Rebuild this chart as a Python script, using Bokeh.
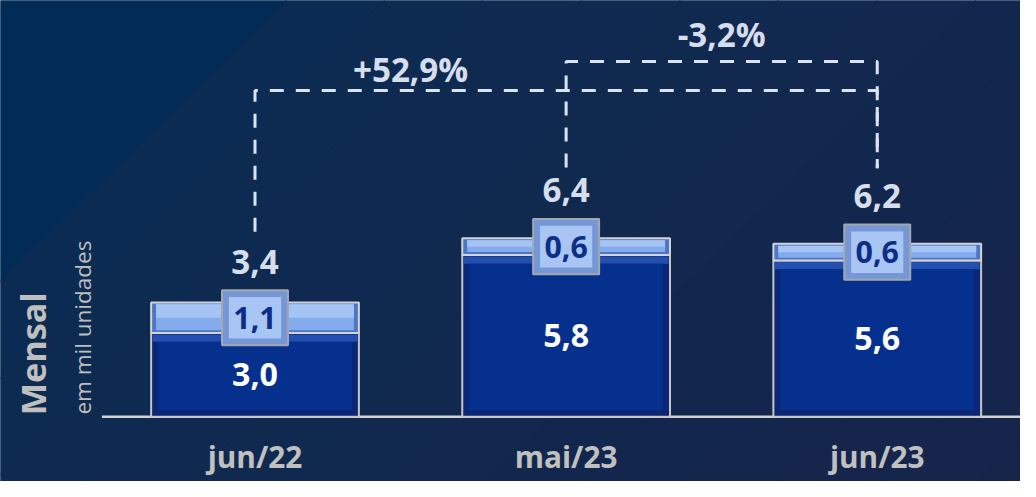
import math
from bokeh.plotting import figure
from bokeh.models import Range1d
from bokeh.core.properties import value
from bokeh.embed import file_html
from bokeh.resources import INLINE

# ---------------- data ----------------
categories = ["jun/22", "mai/23", "jun/23"]
base_vals = [3.0, 5.8, 5.6]          # dark segment
top_vals = [1.1, 0.6, 0.6]           # light segment (box labels)
total_labels = ["3,4", "6,4", "6,2"]
base_labels = ["3,0", "5,8", "5,6"]
top_labels = ["1,1", "0,6", "0,6"]
var_from = [0, 1]
var_to = [2, 2]
var_labels = ["+52,9%", "-3,2%"]

# ---------------- geometry helpers (reference layout scaled into 1020x481) ----------------
FW, FH = 1020, 481
SX = FW / 1036.0
SY = FH / 497.0
SF = (SX + SY) / 2
REF_STEP = 316.0     # reference px per category step
REF_UNIT = 28.8      # reference px per value unit
X0 = -258.5 / REF_STEP
X1 = X0 + 1036.0 / REF_STEP
Y0 = (430 - 497) / REF_UNIT
Y1 = 430 / REF_UNIT


def px2x(px):
    return X0 + px / REF_STEP


def py2y(py):
    return (430 - py) / REF_UNIT


def dx(px):
    return px / REF_STEP


def dy(px):
    return px / REF_UNIT


def fs(n):
    return "%.1fpx" % (n * SF)


xs = list(range(len(categories)))
tops = [b + t for b, t in zip(base_vals, top_vals)]
mids = [b + t / 2 for b, t in zip(base_vals, top_vals)]

p = figure(width=FW, height=FH, x_range=Range1d(X0, X1), y_range=Range1d(Y0, Y1),
           output_backend="svg", toolbar_location=None,
           x_axis_location=None, y_axis_location=None,
           min_border=0, outline_line_color=None,
           background_fill_color="#0d2a50", border_fill_color="#0d2a50")
p.xgrid.visible = False
p.ygrid.visible = False

# ---------------- background ----------------
def hexmix(c1, c2, t):
    a = [int(c1[i:i + 2], 16) for i in (1, 3, 5)]
    b = [int(c2[i:i + 2], 16) for i in (1, 3, 5)]
    return "#%02x%02x%02x" % tuple(round(a[i] + (b[i] - a[i]) * t) for i in range(3))


def band(c0, c1):
    pts = [(c0 + 300, -300), (c1 + 300, -300), (-300, c1 + 300), (-300, c0 + 300)]
    return [px2x(a) for a, b in pts], [py2y(b) for a, b in pts]


bxs, bys, bcols = [], [], []
bx, by = band(-600, 290)
bxs.append(bx); bys.append(by); bcols.append("#022c56")
edges = [290 + i * 100 for i in range(14)]
for i in range(len(edges) - 1):
    bx, by = band(edges[i], edges[i + 1])
    bxs.append(bx); bys.append(by)
    bcols.append(hexmix("#0c2b52", "#17244a", i / (len(edges) - 2)))
p.patches(bxs, bys, fill_color=bcols, line_color=bcols, line_width=1)

# baseline
p.segment(x0=[px2x(103)], y0=[0], x1=[px2x(1045)], y1=[0], line_color="#d2d2d2", line_width=2.5)

# ---------------- bars ----------------
W = 211 / REF_STEP
p.vbar(x=xs, bottom=0, top=base_vals, width=W, fill_color="#0a2674",
       line_color="#c6c6c6", line_width=2)
p.vbar(x=xs, bottom=[b - dy(9) for b in base_vals], top=[b - dy(1.5) for b in base_vals],
       width=W - dx(3), fill_color="#2350b0", line_color=None)
p.vbar(x=xs, bottom=dy(7), top=[b - dy(9) for b in base_vals], width=W - dx(14),
       fill_color="#05308e", line_color=None)

p.vbar(x=xs, bottom=base_vals, top=tops, width=W, fill_color="#4d76c4",
       line_color="#d4d4d4", line_width=2)
p.vbar(x=xs, bottom=[b + dy(3) for b in base_vals], top=[t - dy(2) for t in tops],
       width=W - dx(10), fill_color="#84abeb", line_color=None)
p.vbar(x=xs, bottom=mids, top=[t - dy(2) for t in tops],
       width=W - dx(10), fill_color="#a5c4f6", line_color=None)

# label boxes
p.rect(x=xs, y=mids, width=67 * SX, height=57 * SY, width_units="screen", height_units="screen",
       fill_color="#7597d6", line_color="#a4a8ae", line_width=2)
p.rect(x=xs, y=mids, width=53 * SX, height=43 * SY, width_units="screen", height_units="screen",
       fill_color="#a8c5f4", line_color=None)

FONT = value("Open Sans")
p.text(x=xs, y=mids, text=top_labels, text_font=FONT, text_font_style="bold",
       text_font_size=fs(31), text_color="#0c2e86", text_align="center",
       text_baseline="middle")
p.text(x=xs, y=[b / 2 for b in base_vals], text=base_labels, text_font=FONT,
       text_font_style="bold", text_font_size=fs(33), text_color="#ffffff",
       text_align="center", text_baseline="middle")
p.text(x=xs, y=[m + dy(58) for m in mids], text=total_labels, text_font=FONT,
       text_font_style="bold", text_font_size=fs(34), text_color="#d6deee",
       text_align="center", text_baseline="middle")

# ---------------- variation brackets ----------------
levels_px = [93, 63]
label_off_px = [22, 28]
for k in range(len(var_from)):
    a, b = var_from[k], var_to[k]
    hy = py2y(levels_px[k])
    lx = [a, a, b, b]
    ly = [tops[a] + dy(73), hy, hy, tops[b] + dy(78)]
    p.line(x=lx, y=ly, line_color="#dce3f0", line_width=3, line_dash="14 12")
    p.text(x=[(a + a + 1) / 2], y=[hy + dy(label_off_px[k])], text=[var_labels[k]],
           text_font=FONT, text_font_style="bold", text_font_size=fs(34),
           text_color="#d6deee", text_align="center", text_baseline="middle")

# ---------------- category labels & side titles ----------------
p.text(x=xs, y=py2y(471), text=categories, text_font=FONT, text_font_style="bold",
       text_font_size=fs(30.5), text_color="#c0c0c0", text_align="center",
       text_baseline="middle")
p.text(x=[px2x(32)], y=[py2y(365)], text=["Mensal"], angle=math.pi / 2,
       text_font=FONT, text_font_style="bold", text_font_size=fs(35),
       text_color="#bfbfbf", text_align="center", text_baseline="middle")
p.text(x=[px2x(83)], y=[py2y(338)], text=["em mil unidades"], angle=math.pi / 2,
       text_font=FONT, text_font_size=fs(23), text_color="#bfbfbf",
       text_align="center", text_baseline="middle")

open("out.html", "w").write(file_html(p, INLINE))
